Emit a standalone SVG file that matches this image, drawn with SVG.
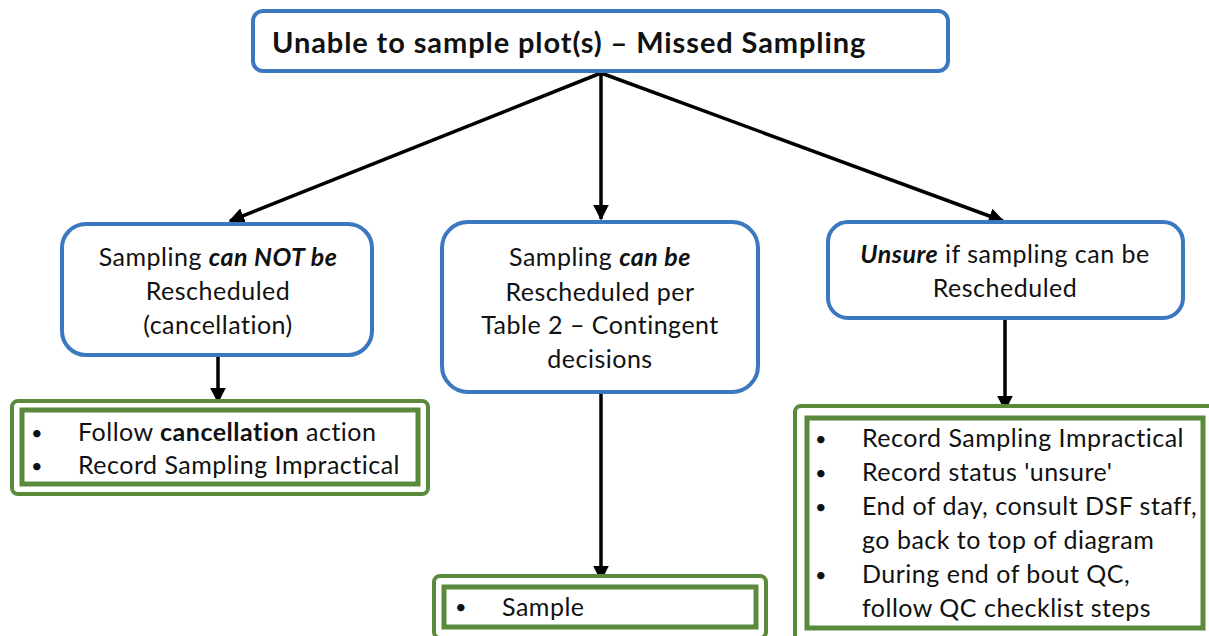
<svg xmlns="http://www.w3.org/2000/svg" width="1209" height="636" viewBox="0 0 1209 636">
<style>
.blue{fill:#fff;stroke:#3b78c0;stroke-width:4}
.gout{fill:#fff;stroke:#5b8a3c;stroke-width:4}
.gin{fill:none;stroke:#5b8a3c;stroke-width:5}
text{font-family:Lato,"Open Sans","Liberation Sans",sans-serif;font-size:25px;letter-spacing:0.5px;fill:#111}
.c{text-anchor:middle}
.b{font-weight:bold}
.bi{font-weight:bold;font-style:italic}
.dot{font-size:20px;letter-spacing:0}
.con{stroke:#000;stroke-width:3.5;fill:none;marker-end:url(#ah)}
</style>
<defs>
<marker id="ah" viewBox="0 0 10 10" refX="9" refY="5" markerWidth="4.5" markerHeight="4.5" orient="auto" markerUnits="strokeWidth">
<path d="M0,0 L10,5 L0,10 z" fill="#000"/>
</marker>
</defs>
<g id="connectors">
<line class="con" x1="601" y1="73" x2="230" y2="221"/>
<line class="con" x1="601" y1="73" x2="601" y2="219"/>
<line class="con" x1="601" y1="73" x2="1003" y2="221"/>
<line class="con" x1="218" y1="356" x2="218" y2="402"/>
<line class="con" x1="601" y1="393" x2="601" y2="580"/>
<line class="con" x1="1005" y1="319" x2="1005" y2="410"/>
</g>
<g id="top">
<rect class="blue" x="253" y="11" width="695" height="60" rx="10"/>
<text x="272" y="53" class="b" style="font-size:29px;letter-spacing:0.9px">Unable to sample plot(s) – Missed Sampling</text>
</g>
<g id="cannot">
<rect class="blue" x="62" y="224" width="310" height="131" rx="24"/>
<text x="218" y="266" class="c">Sampling <tspan class="bi">can NOT be</tspan></text>
<text x="218" y="300" class="c">Rescheduled</text>
<text x="218" y="334" class="c">(cancellation)</text>
</g>
<g id="can">
<rect class="blue" x="442" y="222" width="316" height="170" rx="26"/>
<text x="600" y="266" class="c">Sampling <tspan class="bi">can be</tspan></text>
<text x="600" y="301" class="c">Rescheduled  per</text>
<text x="600" y="334" class="c">Table 2 – Contingent</text>
<text x="600" y="368" class="c">decisions</text>
</g>
<g id="unsure">
<rect class="blue" x="828" y="222" width="355" height="96" rx="20"/>
<text x="1005" y="263" class="c"><tspan class="bi">Unsure</tspan> if sampling can be</text>
<text x="1005" y="297" class="c">Rescheduled</text>
</g>
<g id="cancel-actions">
<rect class="gout" x="12" y="401" width="416" height="93" rx="6"/>
<rect class="gin" x="22" y="410" width="396" height="74"/>
<text x="31" y="440" class="dot">•</text>
<text x="78" y="441">Follow <tspan class="b">cancellation</tspan> action</text>
<text x="31" y="473" class="dot">•</text>
<text x="78" y="474">Record Sampling Impractical</text>
</g>
<g id="sample-actions">
<rect class="gout" x="434" y="576" width="332" height="62" rx="6"/>
<rect class="gin" x="444" y="587" width="312" height="40"/>
<text x="455" y="614" class="dot">•</text>
<text x="502" y="616">Sample</text>
</g>
<g id="unsure-actions">
<rect class="gout" x="795" y="406" width="420" height="236" rx="6"/>
<rect class="gin" x="807" y="418" width="396" height="210"/>
<text x="815" y="446" class="dot">•</text>
<text x="862" y="447">Record Sampling Impractical</text>
<text x="815" y="480" class="dot">•</text>
<text x="862" y="481">Record status 'unsure'</text>
<text x="815" y="514" class="dot">•</text>
<text x="862" y="515">End of day, consult DSF staff,</text>
<text x="862" y="549">go back to top of diagram</text>
<text x="815" y="582" class="dot">•</text>
<text x="862" y="583">During end of bout QC,</text>
<text x="862" y="617">follow QC checklist steps</text>
</g>
</svg>
